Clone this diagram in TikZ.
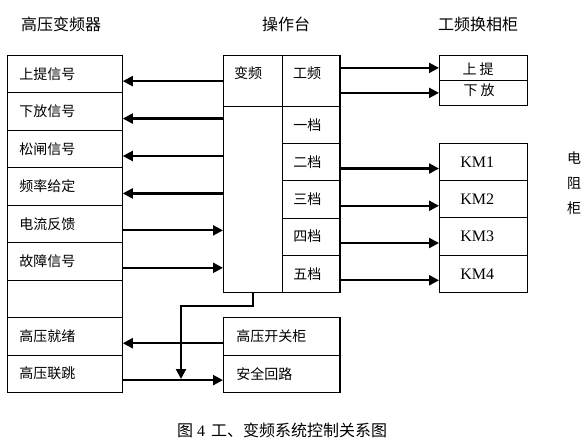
\documentclass[tikz,border=0pt]{standalone}
\usepackage{fontspec}
\setmainfont{Liberation Serif}
\newfontfamily\cjk{Noto Sans CJK SC}
\usetikzlibrary{arrows.meta,calc}
\begin{document}
\begin{tikzpicture}[x=1pt,y=-1pt,
  box/.style={draw, line width=0.8pt, inner sep=0pt, anchor=north west},
  zh/.style={font=\cjk\fontsize{14}{16}\selectfont, inner sep=0pt},
  head/.style={font=\cjk\fontsize{16}{18}\selectfont, inner sep=0pt},
  lcell/.style={box, zh, minimum width=115pt, minimum height=37.44pt,
    text width=91pt, inner xsep=12pt, align=left},
  gcell/.style={box, zh, minimum width=57pt, minimum height=37.2pt,
    text width=35pt, inner xsep=11pt, align=left},
  kcell/.style={box, font=\fontsize{16}{18}\selectfont, minimum width=88pt,
    minimum height=37.25pt, text width=46pt, inner xsep=21pt, align=left},
  hcell/.style={box, zh, minimum width=116pt, minimum height=37.5pt,
    text width=90pt, inner xsep=13pt, align=left},
  thickedge/.style={line width=2pt},
  arr/.style={line width=2.2pt, -{Triangle[length=10pt,width=10pt]}}
]
\useasboundingbox (0,0) rectangle (585,443);

% headers
\node[head] (h1) at (61,24) {高压变频器};
\node[head] (h2) at (286,24) {操作台};
\node[head] (h3) at (478,24) {工频换相柜};
\node[zh, align=center, font=\cjk\fontsize{14}{25}\selectfont] (h4) at (574,183) {电\\阻\\柜};

% left column
\foreach \t [count=\i] in {上提信号,下放信号,松闸信号,频率给定,电流反馈,故障信号,{},高压就绪,高压联跳}
  \node[lcell] (l\i) at (7,{55+(\i-1)*37.44}) {\t};

% console
\node[box, minimum width=59pt, minimum height=51pt] (vf) at (223,55) {};
\node[zh, anchor=west] (tvf) at (234,73) {变频};
\node[box, minimum width=59pt, minimum height=186pt] (bc) at (223,106) {};
\node[box, minimum width=57pt, minimum height=51pt] (gp) at (282,55) {};
\node[zh, anchor=west] (tgp) at (293,73) {工频};
\foreach \t [count=\i] in {一档,二档,三档,四档,五档}
  \node[gcell] (g\i) at (282,{106+(\i-1)*37.2}) {\t};
\draw[thickedge] (gp.north east) -- (g5.south east);

% switch cabinet
\node[box, minimum width=88pt, minimum height=25pt] (sht) at (439,55) {};
\node[box, minimum width=88pt, minimum height=25pt] (xf) at (439,80) {};
\node[zh] (tsht) at (478,69.5) {上\hspace{3pt}提};
\node[zh] (txf) at (479,90.5) {下\hspace{3pt}放};

% KM
\foreach \t [count=\i] in {KM1,KM2,KM3,KM4}
  \node[kcell] (k\i) at (439,{143+(\i-1)*37.25}) {\t};

% HV switch
\node[hcell] (hv1) at (223,317) {高压开关柜};
\node[hcell] (hv2) at (223,354.5) {安全回路};
\draw[thickedge] (hv1.north east) -- (hv2.south east);

% arrows to the left column
\foreach \i in {1,2,3,4} {
  \coordinate (p\i) at ($(l\i.east)+(0,7)$);
  \draw[arr] (p\i -| bc.west) -- (p\i);
}
\foreach \i in {5,6} {
  \coordinate (p\i) at ($(l\i.east)+(0,6.5)$);
  \draw[arr] (p\i) -- (p\i -| bc.west);
}
\coordinate (p8) at ($(l8.east)+(0,7)$);
\draw[arr] (p8 -| hv1.west) -- (p8);
\coordinate (p9) at ($(l9.east)+(0,6.5)$);
\draw[arr] (p9) -- (p9 -| hv2.west);

% 工频 arrows
\draw[arr] (gp.east |- sht.west) -- (sht.west);
\draw[arr] (gp.east |- xf.west) -- (xf.west);

% KM arrows
\foreach \i [evaluate=\i as \j using int(\i+1)] in {1,2,3,4} {
  \coordinate (q\i) at ($(k\i.west)+(0,6.5)$);
  \draw[arr] (q\i -| g\j.east) -- (q\i);
}

% connector down to the safety loop line
\coordinate (d) at (181,379);
\draw[arr] (bc.south) -- ++(0,13) -| (d);

% caption
\node[zh, font=\cjk\fontsize{16}{18}\selectfont] (cap) at (282,430) {图\hspace{4pt}{\fontspec{Liberation Serif}4}\hspace{6pt}工、变频系统控制关系图};
\end{tikzpicture}
\end{document}
